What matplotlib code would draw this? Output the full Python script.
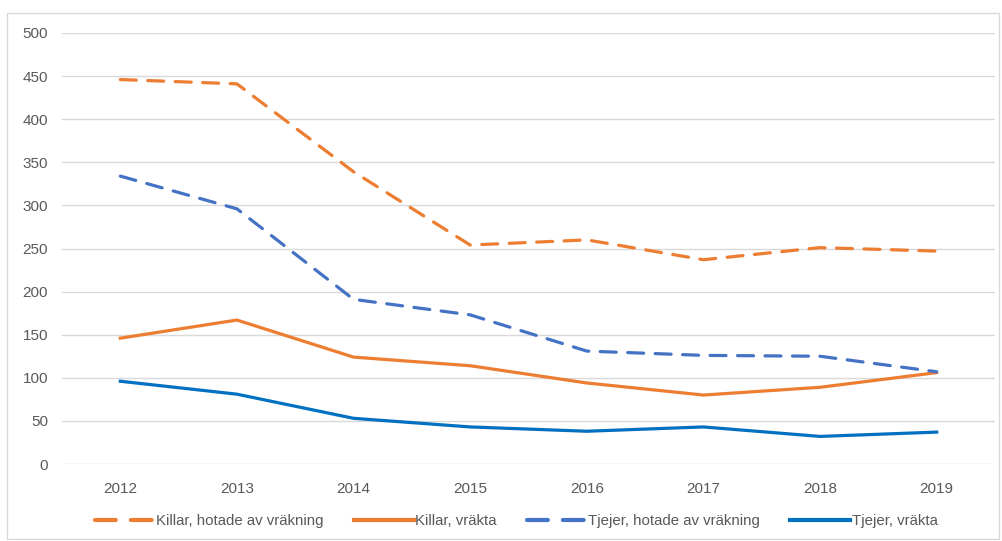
import matplotlib
matplotlib.use("Agg")
import matplotlib.pyplot as plt
from matplotlib.patches import Rectangle

years = [2012, 2013, 2014, 2015, 2016, 2017, 2018, 2019]
killar_hotade = [446, 441, 339, 254, 260, 237, 251, 247]
killar_vrakta = [146, 167, 124, 114, 94, 80, 89, 106]
tjejer_hotade = [334, 296, 191, 173, 131, 126, 125, 107]
tjejer_vrakta = [96, 81, 53, 43, 38, 43, 32, 37]

labels = [
    "Killar, hotade av vräkning",
    "Killar, vräkta",
    "Tjejer, hotade av vräkning",
    "Tjejer, vräkta",
]

ORANGE = "#ED7D31"
BLUE_DASH = "#4472C4"
BLUE = "#0070C0"
TEXT = "#595959"

plt.rcParams["font.family"] = ["Liberation Sans", "DejaVu Sans"]

fig = plt.figure(figsize=(10.02, 5.41), dpi=100)
ax = fig.add_axes([62 / 1002, 1 - 464 / 541, (995 - 62) / 1002, (464 - 33) / 541])

x = list(range(len(years)))
lw = 2.3
ax.plot(x, killar_hotade, color=ORANGE, lw=lw, dashes=(5, 3.6),
        dash_capstyle="round", solid_joinstyle="round", label=labels[0], zorder=3)
ax.plot(x, killar_vrakta, color=ORANGE, lw=lw, solid_joinstyle="round",
        label=labels[1], zorder=3)
ax.plot(x, tjejer_hotade, color=BLUE_DASH, lw=lw, dashes=(5, 3.6),
        dash_capstyle="round", solid_joinstyle="round", label=labels[2], zorder=3)
ax.plot(x, tjejer_vrakta, color=BLUE, lw=lw, solid_joinstyle="round",
        label=labels[3], zorder=3)

ax.set_xlim(-0.5, len(years) - 0.5)
ax.set_ylim(0, 500)
ax.set_yticks(range(0, 501, 50))
ax.set_xticks(x)
ax.set_xticklabels([str(y) for y in years])
ax.grid(axis="y", color="#D9D9D9", lw=1)
ax.set_axisbelow(True)
for s in ax.spines.values():
    s.set_visible(False)
ax.tick_params(length=0, labelsize=11, colors=TEXT)
ax.tick_params(axis="y", pad=10)
ax.tick_params(axis="x", pad=13)

leg = fig.legend(loc="center", bbox_to_anchor=(0.515, 1 - 521 / 541), ncol=4,
                 frameon=False, fontsize=10.8, handlelength=4.0, handletextpad=0.1,
                 columnspacing=2.0)
for t in leg.get_texts():
    t.set_color(TEXT)
for h in leg.legend_handles:
    h.set_linewidth(3)

fig.patches.append(Rectangle((7 / 1002, 1 - 539 / 541), (999 - 7) / 1002, (539 - 13) / 541,
                             transform=fig.transFigure, fill=False,
                             edgecolor="#D9D9D9", lw=1))

fig.savefig("out.png", dpi=100)
